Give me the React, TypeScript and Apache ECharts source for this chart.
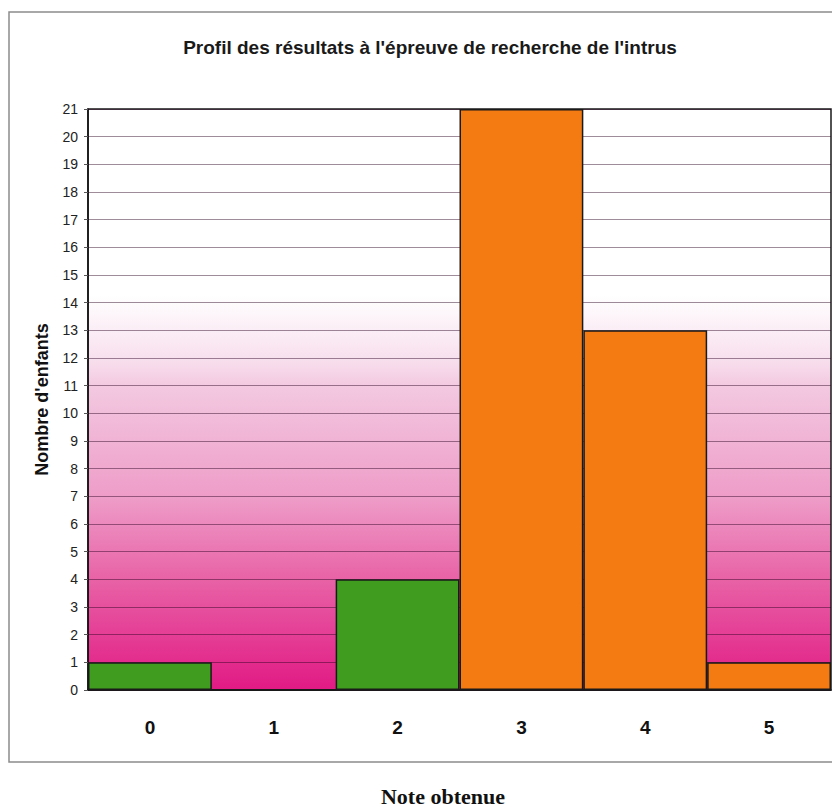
import React, { useEffect, useRef } from "react";
import * as echarts from "echarts";

const categories = ["0", "1", "2", "3", "4", "5"];
const childCounts = [1, 0, 4, 21, 13, 1];
const yMin = 0;
const yMax = 21;
const yInterval = 1;

const titleText = "Profil des résultats à l'épreuve de recherche de l'intrus";
const yAxisTitle = "Nombre d'enfants";
const xAxisTitle = "Note obtenue";

const GREEN = "#3f9c1e";
const ORANGE = "#f47a12";
const barColors = [GREEN, GREEN, GREEN, ORANGE, ORANGE, ORANGE];

export default function App() {
  const ref = useRef<HTMLDivElement>(null);
  useEffect(() => {
    document.body.style.margin = "0";
    const chart = echarts.init(ref.current!, null, { renderer: "svg" });
    const bg = new echarts.graphic.LinearGradient(0, 0, 0, 1, [
      { offset: 0, color: "#ffffff" },
      { offset: 0.32, color: "#ffffff" },
      { offset: 0.43, color: "#f8e0ee" },
      { offset: 0.48, color: "#f3c8e0" },
      { offset: 0.67, color: "#ee9cc8" },
      { offset: 0.81, color: "#e862a6" },
      { offset: 1, color: "#e11a84" },
    ]);
    chart.setOption({
      animation: false,
      backgroundColor: "#ffffff",
      grid: {
        left: 88,
        top: 109,
        right: 1,
        bottom: 120,
        show: true,
        backgroundColor: bg,
        borderColor: "#1a1a1a",
        borderWidth: 1.5,
      },
      graphic: [
        {
          type: "rect",
          shape: { x: 9, y: 12, width: 840, height: 750 },
          style: { fill: "none", stroke: "#8c8c8c", lineWidth: 1.5 },
          z: -10,
          silent: true,
        },
        {
          type: "text",
          x: 430,
          y: 47,
          style: {
            text: titleText,
            fontFamily: "Liberation Sans, Arial, sans-serif",
            fontSize: 19,
            fontWeight: "bold",
            fill: "#1a1a1a",
            textAlign: "center",
            textVerticalAlign: "middle",
          },
        },
        {
          type: "text",
          x: 443,
          y: 796,
          style: {
            text: xAxisTitle,
            fontFamily: "Liberation Serif, Times New Roman, serif",
            fontSize: 22,
            fontWeight: "bold",
            fill: "#111111",
            textAlign: "center",
            textVerticalAlign: "middle",
          },
        },
      ],
      xAxis: {
        type: "category",
        data: categories,
        axisLine: { show: true, lineStyle: { color: "#111", width: 1.5 } },
        axisTick: { show: false },
        axisLabel: {
          margin: 28,
          fontFamily: "Liberation Sans, Arial, sans-serif",
          fontSize: 19,
          fontWeight: "bold",
          color: "#111",
        },
        splitLine: { show: false },
      },
      yAxis: {
        type: "value",
        min: yMin,
        max: yMax,
        interval: yInterval,
        name: yAxisTitle,
        nameLocation: "middle",
        nameRotate: 90,
        nameGap: 37,
        nameTextStyle: {
          fontFamily: "Liberation Sans, Arial, sans-serif",
          fontSize: 18,
          fontWeight: "bold",
          color: "#111",
        },
        axisLine: { show: true, lineStyle: { color: "#111", width: 1.5 } },
        axisTick: { show: true, length: 4, lineStyle: { color: "#555" } },
        axisLabel: {
          margin: 10,
          fontFamily: "Liberation Sans, Arial, sans-serif",
          fontSize: 14,
          color: "#222",
        },
        splitLine: {
          show: true,
          lineStyle: { color: "rgba(40,0,30,0.45)", width: 1.2 },
        },
      },
      series: [
        {
          type: "bar",
          data: childCounts.map((v, i) => ({
            value: v,
            itemStyle: { color: barColors[i] },
          })),
          barCategoryGap: "0%",
          itemStyle: { borderColor: "#1a1a1a", borderWidth: 1.5 },
        },
      ],
    });
    return () => chart.dispose();
  }, []);
  return <div ref={ref} style={{ width: 832, height: 810 }} />;
}
